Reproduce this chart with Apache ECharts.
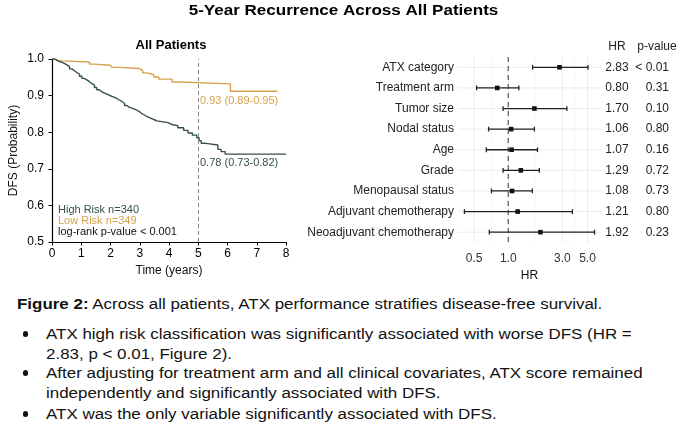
<!DOCTYPE html>
<html>
<head>
<meta charset="utf-8">
<script src="https://cdn.jsdelivr.net/npm/echarts@6.0.0/dist/echarts.min.js"></script>
<style>
  body { margin: 0; background: #fff; font-family: "Liberation Sans", Arial, sans-serif; color: #111; }
  #chart { position: absolute; left: 0; top: 0; width: 685px; height: 290px; }
  .line { position: absolute; font-size: 14px; line-height: 20px; white-space: nowrap;
          transform: scaleX(1.21); transform-origin: 0 0; }
  .dot { position: absolute; left: 22.5px; width: 5.5px; height: 5.5px; border-radius: 50%; background: #111; }
</style>
</head>
<body>
<div id="chart"></div>
<div class="line" style="left:17px; top:294px"><b>Figure 2:</b> Across all patients, ATX performance stratifies disease-free survival.</div>
<div class="dot" style="top:331px"></div>
<div class="line" style="left:46px; top:324px">ATX high risk classification was significantly associated with worse DFS (HR =<br>2.83, p &lt; 0.01, Figure 2).</div>
<div class="dot" style="top:370px"></div>
<div class="line" style="left:46px; top:363px">After adjusting for treatment arm and all clinical covariates, ATX score remained<br>independently and significantly associated with DFS.</div>
<div class="dot" style="top:411px"></div>
<div class="line" style="left:46px; top:404px">ATX was the only variable significantly associated with DFS.</div>
<script>
// Kaplan-Meier steps (time in years, survival probability)
var highTime = [0, 0.1, 0.17, 0.25, 0.34, 0.42, 0.51, 0.6, 0.68, 0.77, 0.85, 0.94, 1.02, 1.1, 1.19,
    1.28, 1.36, 1.45, 1.53, 1.62, 1.7, 1.79, 1.88, 1.96, 2.05, 2.14, 2.22, 2.3, 2.39, 2.48,
    2.56, 2.65, 2.73, 2.82, 2.9, 2.99, 3.07, 3.16, 3.24, 3.33, 3.41, 3.5, 3.58, 3.75, 3.97,
    4.1, 4.3, 4.5, 4.65, 4.8, 4.95, 5.03, 5.1, 5.2, 5.67, 5.78, 5.92, 8.0];
var highSurv = [1.0, 0.996, 0.993, 0.991, 0.988, 0.984, 0.979, 0.973, 0.968, 0.963, 0.959, 0.953, 0.947, 0.943, 0.938,
    0.933, 0.929, 0.922, 0.916, 0.911, 0.907, 0.904, 0.901, 0.898, 0.895, 0.892, 0.888, 0.884, 0.879, 0.873,
    0.868, 0.866, 0.863, 0.86, 0.856, 0.851, 0.847, 0.843, 0.840, 0.837, 0.834, 0.831, 0.829, 0.826, 0.821,
    0.818, 0.812, 0.805, 0.798, 0.792, 0.785, 0.777, 0.770, 0.765, 0.753, 0.747, 0.740, 0.740];
var lowTime = [0, 0.08, 0.2, 0.35, 1.28, 1.45, 1.99, 2.05, 2.3, 2.98, 3.1, 3.25, 3.48, 3.65, 4.1, 4.4, 6.1, 7.7];
var lowSurv = [1.0, 0.997, 0.995, 0.992, 0.986, 0.983, 0.980, 0.977, 0.974, 0.969, 0.962, 0.957, 0.951, 0.945, 0.937, 0.932, 0.912, 0.912];

// forest plot
var forestLabels = ["ATX category", "Treatment arm", "Tumor size", "Nodal status", "Age", "Grade",
    "Menopausal status", "Adjuvant chemotherapy", "Neoadjuvant chemotherapy"];
var hr = [2.83, 0.80, 1.70, 1.06, 1.07, 1.29, 1.08, 1.21, 1.92];
var ciLow = [1.64, 0.525, 0.90, 0.67, 0.64, 0.90, 0.71, 0.41, 0.68];
var ciHigh = [5.05, 1.24, 3.29, 1.70, 1.81, 1.88, 1.63, 3.68, 5.77];
var hrText = ["2.83", "0.80", "1.70", "1.06", "1.07", "1.29", "1.08", "1.21", "1.92"];
var pText = ["< 0.01", "0.31", "0.10", "0.80", "0.16", "0.72", "0.73", "0.80", "0.23"];
var hrTicks = [0.5, 1, 3, 5];
var hrMinor = [0.707, 1.732, 3.873];

var highColor = "#34504c";
var lowColor = "#d6a24c";
var font = '"Liberation Sans", Arial, sans-serif';

var myChart = echarts.init(document.getElementById("chart"));

function zip(a, b) {
    var out = [];
    for (var i = 0; i < a.length; i++) out.push([a[i], b[i]]);
    return out;
}

var forestData = [];
for (var i = 0; i < forestLabels.length; i++) {
    forestData.push([ciLow[i], ciHigh[i], hr[i], i]);
}
var vGrid = [];
hrTicks.forEach(function (v) { vGrid.push([v, 0]); });
hrMinor.forEach(function (v) { vGrid.push([v, 1]); });

function txt(x, y, s, color, size, bold, align, sx) {
    return {
        type: "text", x: x, y: y, silent: true, scaleX: sx || 1,
        style: {
            text: s, fill: color || "#000", fontSize: size || 11,
            fontWeight: bold ? "bold" : "normal", fontFamily: font,
            align: align || "left", verticalAlign: "middle"
        }
    };
}

var option = {
    animation: false,
    textStyle: { fontFamily: font },
    grid: [
        { left: 52, top: 59, width: 234, height: 183 },
        { left: 458, top: 57, width: 143, height: 185.5 }
    ],
    xAxis: [
        {
            gridIndex: 0, type: "value", min: 0, max: 8, interval: 1,
            name: "Time (years)", nameLocation: "middle", nameGap: 21,
            nameTextStyle: { fontSize: 12, color: "#111" },
            axisLine: { lineStyle: { color: "#000", width: 1.2 } },
            axisTick: { length: 3.5, lineStyle: { color: "#000" } },
            axisLabel: { fontSize: 12, color: "#000", margin: 6 },
            splitLine: { show: false }
        },
        {
            gridIndex: 1, type: "log", logBase: 10, min: 0.36, max: 6.58,
            name: "HR", nameLocation: "middle", nameGap: 23,
            nameTextStyle: { fontSize: 12, color: "#111" },
            axisLine: { show: false }, axisTick: { show: false },
            axisLabel: {
                fontSize: 12, color: "#333", margin: 10, customValues: hrTicks,
                formatter: function (v) { return Number(v).toFixed(1); }
            },
            splitLine: { show: false }
        }
    ],
    yAxis: [
        {
            gridIndex: 0, type: "value", min: 0.5, max: 1.0, interval: 0.1,
            name: "DFS (Probability)", nameLocation: "middle", nameGap: 32,
            nameTextStyle: { fontSize: 12, color: "#111" },
            axisLine: { show: true, lineStyle: { color: "#000", width: 1.2 } },
            axisTick: { show: true, length: 3.5, lineStyle: { color: "#000" } },
            axisLabel: { fontSize: 12, color: "#000", margin: 8, formatter: function (v) { return v.toFixed(1); } },
            splitLine: { show: false }
        },
        {
            gridIndex: 1, type: "category", data: forestLabels, inverse: true,
            axisLine: { show: false }, axisTick: { show: false },
            axisLabel: { fontSize: 12, color: "#222", margin: 4 },
            splitLine: { show: false }
        },
        {
            gridIndex: 1, type: "category", data: hrText, inverse: true, position: "right",
            axisLine: { show: false }, axisTick: { show: false },
            axisLabel: { fontSize: 12, color: "#222", margin: 16, align: "center" }
        },
        {
            gridIndex: 1, type: "category", data: pText, inverse: true, position: "right",
            axisLine: { show: false }, axisTick: { show: false },
            axisLabel: { fontSize: 12, color: "#222", margin: 68, align: "right" }
        }
    ],
    series: [
        {
            name: "Low Risk", type: "line", xAxisIndex: 0, yAxisIndex: 0,
            step: "end", showSymbol: false, data: zip(lowTime, lowSurv),
            lineStyle: { color: lowColor, width: 1.4 }, itemStyle: { color: lowColor }, z: 3
        },
        {
            name: "High Risk", type: "line", xAxisIndex: 0, yAxisIndex: 0,
            step: "end", showSymbol: false, data: zip(highTime, highSurv),
            lineStyle: { color: highColor, width: 1.4 }, itemStyle: { color: highColor }, z: 3,
            markLine: {
                silent: true, symbol: "none", label: { show: false },
                lineStyle: { type: [4, 3], color: "#8a8a8a", width: 1 },
                data: [{ xAxis: 5 }]
            }
        },
        {
            // row gridlines
            type: "custom", xAxisIndex: 1, yAxisIndex: 1, silent: true, z: 1,
            data: forestData, encode: { x: 2, y: 3 },
            renderItem: function (params, api) {
                var p = api.coord([api.value(2), api.value(3)]);
                var cs = params.coordSys;
                return {
                    type: "line",
                    shape: { x1: cs.x, y1: p[1], x2: cs.x + cs.width, y2: p[1] },
                    style: { stroke: "#ebebeb", lineWidth: 1 }
                };
            }
        },
        {
            // HR gridlines
            type: "custom", xAxisIndex: 1, yAxisIndex: 1, silent: true, z: 1,
            data: vGrid, encode: { x: 0 },
            renderItem: function (params, api) {
                var x = api.coord([api.value(0), 0])[0];
                var cs = params.coordSys;
                var minor = api.value(1) === 1;
                return {
                    type: "line",
                    shape: { x1: x, y1: cs.y, x2: x, y2: cs.y + cs.height },
                    style: { stroke: minor ? "#f3f3f3" : "#ebebeb", lineWidth: minor ? 0.6 : 1 }
                };
            }
        },
        {
            type: "custom", xAxisIndex: 1, yAxisIndex: 1, silent: true, z: 2,
            data: [[1, 0]], encode: { x: 0 },
            renderItem: function (params, api) {
                var x = api.coord([api.value(0), 0])[0];
                var cs = params.coordSys;
                return {
                    type: "line",
                    shape: { x1: x, y1: cs.y, x2: x, y2: cs.y + cs.height },
                    style: { stroke: "#666", lineWidth: 1.3, lineDash: [5, 4] }
                };
            }
        },
        {
            // error bars
            type: "custom", xAxisIndex: 1, yAxisIndex: 1, silent: true, z: 3,
            data: forestData, encode: { x: [0, 1, 2], y: 3 },
            renderItem: function (params, api) {
                var row = api.value(3);
                var lo = api.coord([api.value(0), row]);
                var hi = api.coord([api.value(1), row]);
                var mid = api.coord([api.value(2), row]);
                var cap = 2.4;
                var st = { stroke: "#222", lineWidth: 1.3 };
                return {
                    type: "group",
                    children: [
                        { type: "line", shape: { x1: lo[0], y1: lo[1], x2: hi[0], y2: hi[1] }, style: st },
                        { type: "line", shape: { x1: lo[0], y1: lo[1] - cap, x2: lo[0], y2: lo[1] + cap }, style: st },
                        { type: "line", shape: { x1: hi[0], y1: hi[1] - cap, x2: hi[0], y2: hi[1] + cap }, style: st },
                        { type: "rect", shape: { x: mid[0] - 2.3, y: mid[1] - 2.3, width: 4.6, height: 4.6 }, style: { fill: "#111" } }
                    ]
                };
            }
        }
    ],
    graphic: [
        txt(343.5, 11, "5-Year Recurrence Across All Patients", "#000", 14, true, "center", 1.217),
        txt(171, 45, "All Patients", "#000", 13, true, "center"),
        txt(617, 47, "HR", "#222", 12, false, "center"),
        txt(657, 47, "p-value", "#222", 12, false, "center"),
        txt(200, 101, "0.93 (0.89-0.95)", lowColor, 11),
        txt(200, 163, "0.78 (0.73-0.82)", highColor, 11),
        txt(58, 210, "High Risk n=340", highColor, 11),
        txt(58, 221, "Low Risk n=349", lowColor, 11),
        txt(58, 232, "log-rank p-value < 0.001", "#111", 11)
    ]
};

myChart.setOption(option);
</script>
</body>
</html>
